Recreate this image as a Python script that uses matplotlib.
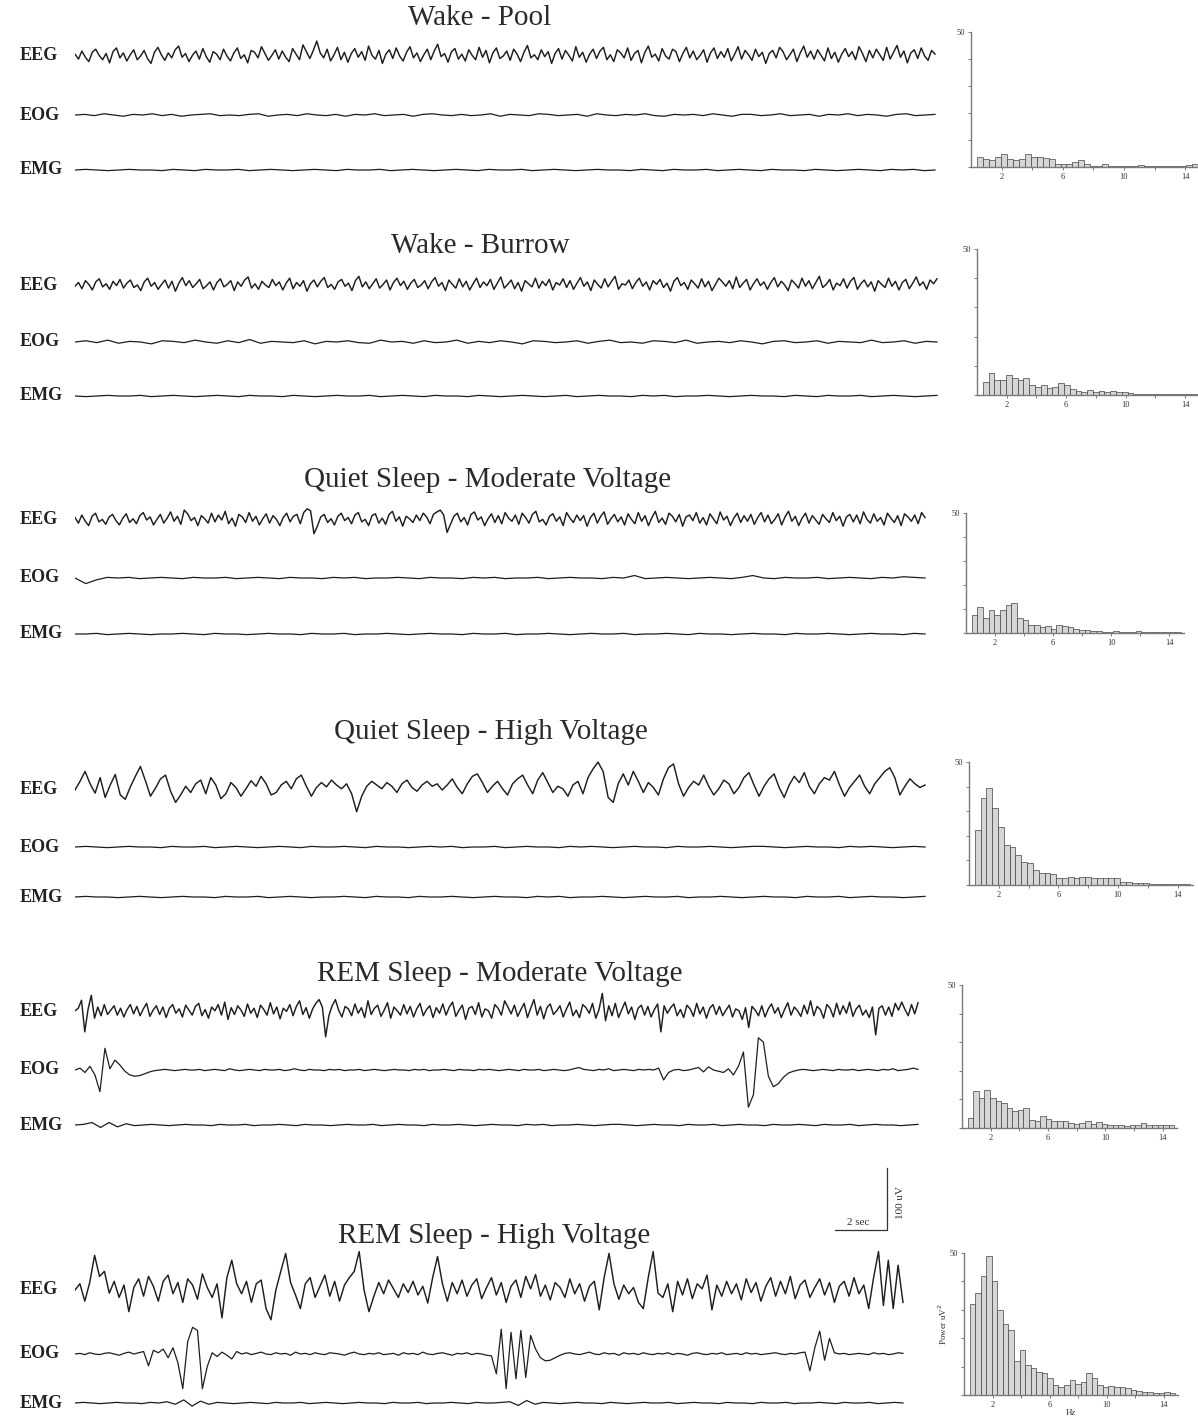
import numpy as np
import matplotlib.pyplot as plt

W, H = 1198, 1428
fig = plt.figure(figsize=(W / 100, H / 100), dpi=100)
plt.rcParams['font.family'] = ['Liberation Serif', 'DejaVu Serif']

# panel titles
titles = ['Wake - Pool', 'Wake - Burrow', 'Quiet Sleep - Moderate Voltage',
          'Quiet Sleep - High Voltage', 'REM Sleep - Moderate Voltage',
          'REM Sleep - High Voltage']
channels = ['EEG', 'EOG', 'EMG']

# trace values in uV
r1_eeg = [3, -5, 8, -2, -9, 6, 11, 1, -6, 4, -11, 7, 13, -3, 5, -8, 2, 10, -6, 0,
          9, -4, -12, 6, 14, 2, -7, 5, -3, 10, 16, -2, 4, -9, 1, 8, -5, 12, -1, -10,
          7, 3, -6, 11, 0, -8, 5, 13, -4, 2, -11, 9, 6, -3, 15, 4, -7, 1, 10, -5,
          8, -2, -9, 12, 3, -6, 18, 7, -4, 9, 24, 5, -3, 11, -8, 2, 14, -6, 6, -10,
          4, 12, -2, 7, -7, 16, 1, -5, 9, -12, 3, 10, -4, 13, 0, -8, 6, 15, -3, 5,
          -9, 2, 11, -6, 8, 19, -1, 4, -10, 7, 12, -5, 3, -8, 10, 1, -6, 14, -2, 9,
          -11, 5, 13, -4, 0, 8, -7, 11, 3, -9, 6, 17, -3, 2, -6, 10, -1, 7, -12, 4,
          12, -5, 9, 1, -8, 15, -2, 6, -10, 3, 11, -4, 8, 14, -6, 2, -9, 10, 5, -3,
          13, -7, 4, 9, -11, 6, 16, -2, 3, -8, 12, 0, -5, 11, 7, -9, 4, 14, -3, 8,
          -6, 1, 10, -10, 5, 13, -4, 7, -2, 12, -8, 3, 15, -5, 9, 2, -7, 11, -1, 6,
          -12, 4, 9, -3, 14, 7, -6, 2, 11, -9, 5, 16, -2, 8, -5, 10, 1, -8, 13, -4,
          6, -10, 3, 12, -1, 7, -6, 15, 4, -9, 9, -3, 11, 2, -7, 14, -5, 6, 17, -2,
          8, -11, 5, 10, -4, 13, 0, -7, 9, 3]
r1_eog = [0, 1, -1, 2, 0, -2, 1, 0, 2, -1, 1, -2, 0, 1, 2, -1, 0, -1, 1, 2,
          -2, 0, 1, -1, 2, 0, -1, 1, -2, 1, 0, 2, -1, 0, 1, -2, 1, 2, 0, -1,
          1, -1, 0, 2, -2, 1, 0, -1, 2, 1, -1, 0, 1, -2, 2, 0, -1, 1, 0, 2,
          -1, -2, 1, 0, 1, -1, 2, 0, -2, 1, 1, -1, 0, 2, -1, 0, 1, -2, 1, 0,
          2, -1, 1, 0, -2, 1, 2, -1, 0, 1]
r1_emg = [0, 1, 0, -1, 0, 1, 0, 0, -1, 1, 0, -1, 1, 0, 0, 1, -1, 0, 1, 0,
          -1, 0, 1, 0, -1, 1, 0, 0, 1, -1, 0, 1, 0, -1, 0, 1, 0, -1, 1, 0,
          0, 1, -1, 0, 1, 0, -1, 0, 1, 0, 0, -1, 1, 0, -1, 1, 0, 0, 1, -1,
          0, 1, 0, -1, 1, 0, 0, -1, 1, 0, -1, 0, 1, 0, -1, 1, 0, 1, -1, 0]

r2_eeg = [-2, 4, -6, 7, 1, -8, 5, 10, -3, 2, -7, 6, -1, 9, -5, 3, 8, -4, 0, -9,
          5, 11, -2, 4, -7, 1, 8, -5, 6, -10, 3, 12, -1, 7, -4, 2, 9, -6, -1, 5,
          -8, 4, 10, -3, 1, 7, -9, 5, -2, 8, 13, -5, 2, -7, 6, 0, -4, 9, -1, 5,
          -8, 3, 11, -6, 4, -2, 7, -10, 2, 8, -3, 6, 12, -4, 1, -7, 5, 9, -2, 3,
          -9, 7, 14, -3, 5, -6, 2, 10, -5, 1, 8, -8, 4, 11, -1, 6, -7, 3, 9, -4,
          0, 7, -6, 5, 12, -2, 4, -9, 8, 1, -5, 10, -3, 6, -8, 2, 11, -4, 5, -1,
          9, -7, 3, 13, -5, 1, 8, -6, 4, -10, 7, 2, -3, 11, -5, 6, -1, 9, -8, 4,
          0, 10, -4, 7, -7, 3, 12, -2, 5, -9, 8, 1, -5, 10, -3, 6, 14, -7, 2, 0,
          8, -6, 4, 11, -2, 5, -8, 7, 1, 9, -4, 3, -10, 6, 12, -1, 4, -7, 8, 2,
          -5, 10, -3, 6, -9, 1, 11, 5, -2, 7, -6, 13, -4, 3, 9, -8, 2, 10, -1, 5,
          -7, 4, 12, -3, 6, 0, -9, 8, 2, -5, 11, -2, 7, -6, 4, 14, -4, 1, 9, -8,
          3, -1, 10, -5, 6, 12, -7, 2, 8, -3, 5, -10, 7, 1, -4, 11, -2, 6, -8, 4,
          9, -6, 3, 13, -1, 5, -7, 8, 2, 10]
r2_eog = [0, 2, -1, 3, -2, 1, 0, -3, 2, 1, -1, 3, 0, -2, 2, -1, 4, -2, 1, 0,
          -1, 2, -3, 1, 0, 2, -1, -2, 3, 0, 1, -2, 2, -1, 0, 3, -2, 1, -1, 2,
          0, -3, 2, 1, -1, 0, 2, -2, 1, 3, -1, 0, -2, 2, 1, -1, 3, -2, 0, 1,
          -1, 2, 0, -3, 1, 2, -1, 0, 2, -2, 1, 0, -1, 3, -1, 0, 2, -2, 1, 0]
r2_emg = [0, -1, 0, 1, 0, 0, 1, -1, 0, 1, 0, -1, 0, 1, 0, -1, 1, 0, 0, -1,
          1, 0, -1, 0, 1, 0, 0, 1, -1, 0, 1, 0, -1, 1, 0, 0, -1, 1, 0, -1,
          0, 1, 0, -1, 0, 1, -1, 0, 1, 0, 0, -1, 1, 0, 1, -1, 0, 0, 1, 0,
          -1, 0, 1, 0, 0, -1, 1, 0, -1, 1, 0, 0, 1, -1, 0, 1, 0, -1, 0, 1]

r3_eeg = [4, -5, 8, -2, -9, 6, 11, -3, 1, -7, 5, 9, -1, -8, 3, 10, -4, 2, -6, 7,
          12, 0, 5, -8, 1, 9, -5, 3, 13, -2, 6, -7, 16, 10, -1, 4, -9, 7, 2, -5,
          11, -3, 8, 0, 14, -6, 3, -10, 9, 5, -4, 12, -2, 6, -8, 2, 10, -5, 7, 1,
          -9, 4, 11, -3, 6, 9, -6, 12, 18, 15, -22, -10, 5, 9, -4, 2, -8, 6, 11, -1,
          4, -6, 8, 12, -3, 1, -9, 7, 10, -5, 3, -7, 9, 14, -2, 5, -10, 6, 2, -4,
          8, -1, 11, 5, -6, 9, 13, 16, 8, -20, -7, 6, 11, -3, 4, -8, 9, 13, 0, 5,
          -9, 2, 10, -4, 7, -6, 12, 3, -2, 8, -7, 11, 4, -5, 9, 14, -3, 1, -8, 6,
          10, -2, 5, -9, 12, 3, -4, 8, -1, 7, -10, 4, 11, -5, 6, 13, -7, 2, 9, -3,
          5, -8, 10, 1, -6, 12, -2, 7, -9, 4, 14, -4, 3, -7, 11, 6, -3, 9, -10, 5,
          8, -1, 12, -5, 4, -8, 10, 2, -6, 13, 0, 6, -9, 3, 11, -4, 7, -2, 9, -7,
          4, 12, -3, 8, -6, 1, 10, -8, 5, 14, -2, 6, -9, 3, 11, -5, 7, 0, -7, 9,
          2, -4, 12, -1, 6, -10, 5, 9, -3, 8, -6, 13, 1, -5, 10, -2, 4, -8, 11, 3,
          -4, 7, -9, 10, 5, -2, 8, -6, 12, 4]
r3_eog = [0, -9, -3, 1, 0, 1, -1, 0, 1, 0, -1, 1, 0, 0, 1, -1, 0, 1, 0, -1,
          1, 0, 0, -1, 1, 0, 1, -1, 0, 0, 1, 0, -1, 1, 0, 0, -1, 1, 0, 1,
          -1, 0, 0, 1, -1, 0, 1, 0, 0, -1, 1, 0, 4, -1, 0, 1, 0, -1, 0, 1,
          0, -1, 1, 4, 0, -1, 1, 0, 0, 1, -1, 0, 1, 0, -1, 1, 0, 2, 1, 0]
r3_emg = [0, 0, 1, -1, 0, 1, 0, -1, 0, 0, 1, 0, -1, 1, 0, 0, -1, 0, 1, 0,
          0, -1, 1, 0, 0, 1, -1, 0, 0, 1, 0, -1, 0, 1, 0, 0, -1, 1, 0, 0,
          1, -1, 0, 0, 1, 0, -1, 0, 1, 0, 0, 1, -1, 0, 0, 1, 0, -1, 1, 0,
          0, -1, 0, 1, 0, 0, -1, 1, 0, 0, 1, 0, -1, 0, 1, 0, 0, -1, 1, 0]

r4_eeg = [0, 14, 30, 10, -5, 20, -12, 8, 25, -8, -15, 5, 22, 38, 15, -10, 3, 18, 24, -2,
          -20, -8, 6, -4, 10, 16, -6, 20, 8, -14, -6, 12, 4, -10, 2, 15, 6, 22, 10, -8,
          -4, 8, 14, 2, 18, 24, 6, -10, 4, 12, 5, 16, 8, 2, 10, -6, -35, -10, 6, 14,
          8, 2, 12, 6, -4, 10, 16, 4, -2, 8, 14, 6, 10, 0, 8, 18, 4, -6, 10, 22,
          26, 12, -4, 6, 14, 2, -8, 10, 18, 24, 8, -6, 16, 28, 12, -4, 6, 2, -10, 8,
          14, -6, 20, 34, 45, 30, -12, -20, 10, 26, 8, 30, 14, -4, 12, 4, -8, 18, 36, 42,
          10, -10, 4, 14, 8, 24, 6, -8, 2, 16, 10, -6, 4, 20, 28, 8, -10, 6, 18, 26,
          4, -12, 8, 22, 12, 28, 6, -6, 10, 20, 16, 30, 8, -10, 4, 14, 24, 6, -6, 10,
          20, 30, 36, 20, -8, 6, 18, 10, 4, 8]
r4_eog = [0, 1, 0, -1, 0, 1, 0, 0, -1, 1, 0, 0, 1, -1, 0, 1, 0, -1, 0, 1,
          0, -1, 1, 0, 0, 1, 0, -1, 1, 0, 0, -1, 0, 1, 0, 1, -1, 0, 0, 1,
          -1, 0, 1, 0, 0, -1, 1, 0, 1, 0, -1, 0, 1, 0, 0, -1, 1, 0, 0, 1,
          0, -1, 0, 1, 1, 0, -1, 0, 1, 0, 0, -1, 1, 0, 1, 0, -1, 0, 1, 0]
r4_emg = [0, 1, 0, 0, -1, 0, 1, 0, -1, 0, 1, 0, 0, -1, 1, 0, 0, 1, -1, 0,
          1, 0, -1, 0, 0, 1, 0, -1, 1, 0, 0, -1, 1, 0, 0, 1, 0, -1, 0, 1,
          0, 0, -1, 1, 0, 1, -1, 0, 0, 1, 0, -1, 0, 1, 0, 0, 1, -1, 0, 0,
          1, 0, -1, 0, 1, 0, 0, -1, 1, 0, 0, 1, -1, 0, 1, 0, 0, -1, 0, 1]

r5_eeg = [2, 6, 19, -32, 4, 27, -10, 8, -6, 12, -4, 3, 10, -5, 6, -8, 4, 12, -3, 9,
          -6, 5, 14, -7, 3, 10, -4, 8, -9, 6, 12, -2, 5, -8, 11, 3, -5, 9, 14, -6,
          4, -10, 8, 2, 12, -5, 16, -12, 7, -4, 10, 3, -7, 13, -2, 6, -9, 11, 4, -5,
          15, -3, 8, -11, 6, 1, 12, -6, 9, 18, -4, 7, -10, 5, 14, 20, 8, -40, -6, 10,
          20, 3, -8, 9, 5, -6, 13, -2, 7, -9, 18, -4, 6, 11, -7, 3, 15, -10, 8, 2,
          -5, 12, -3, 9, -8, 5, 14, -6, 4, 10, -9, 7, -2, 13, -5, 8, 16, -7, 3, 11,
          -12, 6, 9, -4, 15, -8, 5, 2, -10, 12, 6, -5, 18, 8, -3, 11, -7, 4, 14, -9,
          6, 20, -5, 9, -11, 7, 13, -4, 2, 10, -8, 5, 16, -6, 3, -9, 12, 7, -2, 14,
          -10, 4, 30, -14, 10, -6, 14, -9, 4, 16, -3, 8, -12, 6, 11, -5, 9, -8, 4, 13,
          -32, 10, -2, 7, 13, -6, 4, -9, 11, 5, -7, 14, -3, 8, -10, 6, 12, -4, 9, -6,
          3, 11, -8, 5, 2, -12, 7, -25, 9, 3, -6, 10, -8, 5, 13, -2, 7, -9, 4, 15,
          -5, 8, 2, -7, 11, -3, 18, -6, 9, 4, -10, 12, 6, -8, 14, -4, 10, -2, 16, -7,
          5, 11, -5, 3, -9, 8, -37, 6, 10, -5, 8, -7, 14, 3, 16, 4, -6, 12, -3, 15]
r5_eog = [0, 3, -4, 6, -8, -35, 35, 2, 16, 8, -2, -8, -10, -9, -6, -3, -1, 0, 1, 0,
          -1, 0, 1, 0, 0, 1, -1, 0, 1, 0, -1, 2, 0, -1, 0, 1, 0, -1, 1, 0,
          0, 1, -1, 0, 2, 0, -1, 1, 0, 0, -1, 1, 0, 1, -1, 0, 0, 1, -1, 0,
          1, 0, -1, 0, 1, 0, 0, -1, 1, 0, 1, -1, 0, 0, 1, 0, -1, 1, 0, 0,
          -1, 1, 0, 1, 0, -1, 0, 1, 0, -1, 1, 0, 0, 1, -1, 0, 1, 0, -1, 0,
          2, 4, 1, 0, -1, 1, 0, 2, -1, 0, 1, 0, -1, 1, 0, 1, 0, 3, -16, -4,
          0, 1, -1, 0, 2, 4, -3, 5, 0, -2, -4, 2, -8, 6, 29, -60, -40, 52, 45, -10,
          -27, -22, -12, -5, -2, 0, 1, 0, -1, 0, 1, 0, -1, 1, 0, 0, 1, -1, 0, 1,
          0, -1, 1, 0, 2, -1, 0, 1, 3, 1]
r5_emg = [0, 1, 4, -4, 4, -3, 2, -1, 0, 1, 0, -1, 0, 1, 0, 0, -1, 1, 0, 0,
          1, -1, 0, 0, 1, 0, -1, 1, 0, 0, -1, 0, 1, 0, 0, 1, -1, 0, 1, 0,
          0, -1, 1, 0, 0, 1, 0, -1, 0, 1, 0, 0, -1, 1, 0, 1, -1, 0, 0, 1,
          0, -1, 0, 1, 1, 0, -1, 0, 1, 0, 0, -1, 1, 0, 0, 1, -1, 0, 1, 0,
          0, -1, 1, 0, 0, 1, 0, -1, 1, 0, 0, 1, -1, 0, 1, 0, 0, -1, 0, 1]

r6_eeg = [0, 10, -18, 12, 56, 22, 30, -5, 14, -12, 8, -35, 4, 18, -10, 22, 6, -18, 14, 24,
          -6, 12, -20, 18, 8, -15, 26, 4, -12, 10, -45, 20, 48, 10, -6, 14, -20, 10, 16, -30,
          -48, 0, 30, 59, 12, -8, -30, 10, 20, -12, 6, 24, -10, 14, -18, 8, 20, 30, 62, 0,
          -35, -10, 12, -6, 16, 2, -12, 10, -4, 14, -8, 6, -21, 20, 54, 10, -18, 12, -6, 16,
          -10, 8, 18, -14, 4, 20, -8, 12, -20, 6, 16, -12, 22, 2, 25, -10, 8, -16, 12, 4,
          -12, 18, -6, 10, -18, 6, 14, -32, 20, 59, 10, -15, 8, -6, 4, -20, -30, 20, 62, -5,
          -12, 10, -35, 14, -8, 18, -14, 10, 2, 24, -32, 8, -10, 14, -6, 10, -16, 18, -4, 12,
          -18, 6, 20, -10, 14, -6, 22, -14, 8, 16, -12, 4, 18, -8, 12, -20, 6, 14, -10, 20,
          -6, 8, -30, 20, 62, -25, 48, -30, 40, -20]
r6_eog = [0, 1, -1, 2, 0, -1, 1, 2, 0, -2, 1, 3, 0, 2, 4, -19, 6, 2, 8, -6,
          10, -14, -56, 20, 43, 38, -56, -20, 2, -4, 3, -2, -8, 4, 0, 2, -1, 1, 3, 0,
          -1, 2, 0, 1, -2, 3, 0, 1, -1, 2, 0, -1, 2, 1, 0, -2, 1, 3, 0, -1,
          1, 0, 2, -1, 0, 1, -2, 2, 0, 1, -1, 3, 0, -1, 1, 2, 0, -2, 1, 0,
          2, -1, 1, 0, -2, -3, -32, 40, -56, 35, -40, 38, -38, 30, 8, -6, -11, -10, -6, -2,
          1, 2, 0, -1, 1, 3, 0, -1, 2, 0, 1, -2, 2, 0, 1, -1, 2, 0, -1, 1,
          0, 2, -1, 1, 0, -2, 1, 2, 0, -1, 1, 0, 2, -1, 0, 1, -1, 2, 0, 1,
          -1, 0, 1, 2, 0, -1, 1, 0, 2, 3, -27, 10, 37, -10, 25, 2, 0, 1, -1, 0,
          1, 0, -1, 2, 0, 1, -1, 0, 2, 1]
r6_emg = [0, 1, 0, -1, 0, 1, 0, 0, -1, 1, 0, 2, -2, 5, -5, 3, -2, 1, 0, -1,
          0, 1, 0, -1, 1, 0, 0, 1, -1, 0, 1, 0, -1, 0, 1, 0, 0, -1, 1, 0,
          0, 1, -1, 0, 0, 1, 0, -1, 1, 0, 0, 1, 2, -4, 4, -2, 1, 0, -1, 0,
          1, 0, 0, -1, 1, 0, -1, 0, 1, 0, 0, 1, -1, 0, 1, 0, 0, -1, 1, 0,
          0, -1, 1, 0, 0, 1, -1, 0, 0, 1, 0, -1, 1, 0, 0, 1, -1, 0, 1, 0]

traces = [(r1_eeg, r1_eog, r1_emg), (r2_eeg, r2_eog, r2_emg), (r3_eeg, r3_eog, r3_emg),
          (r4_eeg, r4_eog, r4_emg), (r5_eeg, r5_eog, r5_emg), (r6_eeg, r6_eog, r6_emg)]

# power spectra, 0.39 Hz bins, uV^2
spec1 = [3.7, 3.1, 2.5, 3.7, 4.7, 3.1, 2.7, 3.1, 4.9, 3.7, 3.7, 3.5, 3.1, 1.0, 1.2, 1.0, 1.9, 2.7, 1.2,
         0.5, 0.2, 1.0, 0.3, 0.3, 0.4, 0.3, 0.3, 0.9, 0.2, 0.3, 0.3, 0.3, 0.3, 0.4, 0.3, 0.6, 1.0]
spec2 = [4.6, 7.4, 5.1, 5.1, 6.8, 5.7, 5.1, 5.9, 3.4, 2.9, 3.4, 2.5, 2.9, 4.0, 3.4, 2.1, 1.4, 1.1, 1.6,
         1.1, 1.4, 1.1, 1.4, 1.1, 1.1, 0.7, 0.5, 0.4, 0.5, 0.4, 0.3, 0.4, 0.3, 0.4, 0.3, 0.3, 0.3]
spec3 = [7.6, 11.0, 6.2, 9.7, 7.6, 9.7, 11.8, 12.5, 6.2, 5.5, 3.5, 3.2, 2.4, 2.8, 1.8, 3.5, 2.8, 2.4, 1.8,
         1.4, 1.4, 1.0, 0.8, 0.6, 0.6, 0.8, 0.5, 0.6, 0.5, 0.8, 0.5, 0.5, 0.6, 0.5, 0.6, 0.6, 0.5]
spec4 = [22.4, 35.2, 39.3, 31.2, 23.7, 16.3, 15.6, 12.2, 9.5, 8.8, 6.1, 4.7, 4.7, 4.5, 2.7, 2.7, 3.4,
         3.0, 3.1, 3.4, 3.0, 3.0, 2.8, 3.0, 2.7, 1.4, 1.1, 0.9, 0.9, 0.7, 0.4, 0.4, 0.3, 0.4, 0.3, 0.5, 0.3]
spec5 = [3.5, 12.8, 10.5, 13.4, 10.5, 9.3, 8.7, 7.0, 5.8, 6.4, 7.0, 2.9, 2.3, 4.1, 3.3, 2.3, 2.6, 2.3,
         1.7, 1.4, 1.6, 2.3, 1.4, 2.1, 1.4, 1.2, 0.9, 0.9, 0.6, 0.9, 1.2, 1.7, 1.2, 0.9, 0.9, 0.9, 0.9]
spec6 = [32, 36, 42, 49, 40, 30, 25, 23, 12, 16, 10.5, 9.4, 8.2, 7.6, 5.9, 3.5, 2.9, 3.5, 5.3, 4.0,
         4.7, 7.6, 5.9, 3.5, 2.9, 3.2, 2.9, 2.9, 2.3, 1.8, 1.5, 1.2, 1.2, 0.8, 0.8, 1.0, 0.8]
spectra = [spec1, spec2, spec3, spec4, spec5, spec6]
bin_hz = 0.39

# layout in pixels
title_xy = [(480, 18), (480, 246), (488, 480), (491, 732), (500, 974), (494, 1236)]
chan_y = [(56, 115, 170), (285, 342, 396), (520, 578, 634),
          (790, 847, 897), (1012, 1070, 1125), (1290, 1354, 1403)]
trace_end = [935, 937, 925, 925, 918, 903]
spec_box = [(971, 15.3, 167, 32), (977, 14.86, 395, 249), (966, 14.5, 633, 513),
            (969, 14.9, 885, 762), (962, 14.33, 1128, 985), (964, 14.25, 1395, 1253)]
x0 = 75
sec_px = 26.0
uv_px = 0.62
ink = '#1e1e1e'


def px_axes(left, top, right, bottom):
    return fig.add_axes([left / W, 1 - bottom / H, (right - left) / W, (bottom - top) / H])


for k in range(6):
    eeg_y = chan_y[k][0]
    top = max(eeg_y - 130, 0)
    bottom = chan_y[k][2] + 20
    ax = px_axes(x0, top, x0 + 870, bottom)
    ax.set_xlim(0, 870 / sec_px)
    ax.set_ylim(-(bottom - eeg_y) / uv_px, (eeg_y - top) / uv_px)
    ax.axis('off')
    dur = (trace_end[k] - x0) / sec_px
    for vals, yc, lw in zip(traces[k], chan_y[k], [1.05, 0.9, 0.9]):
        off = -(yc - eeg_y) / uv_px
        t = np.linspace(0, dur, len(vals))
        ax.plot(t, np.array(vals) + off, color=ink, lw=lw)
    for name, yc in zip(channels, chan_y[k]):
        fig.text(20 / W, 1 - yc / H, name, ha='left', va='center', fontsize=13,
                 fontweight='bold', color='#222222')
    fig.text(title_xy[k][0] / W, 1 - title_xy[k][1] / H, titles[k], ha='center', va='center',
             fontsize=21, color='#2a2a2a')

    if k == 5:
        # scale bar: 2 sec / 100 uV
        sx = (835 - x0) / sec_px
        sy = (eeg_y - 1230) / uv_px
        ax.plot([sx, sx + 2, sx + 2], [sy, sy, sy + 100], color='#333333', lw=0.9)
        ax.text(sx + 0.9, sy + 5, '2 sec', ha='center', va='bottom', fontsize=8, color='#333333')
        ax.text(sx + 2.35, sy + 45, '100 uV', ha='left', va='center', rotation=90,
                fontsize=8, color='#333333')

    # spectrum
    sx0, spx, sbase, stop = spec_box[k]
    sax = px_axes(sx0, stop, sx0 + 15 * spx, sbase)
    freqs = bin_hz * np.arange(1, len(spectra[k]) + 1)
    sax.bar(freqs, spectra[k], width=bin_hz, align='edge', color='#d6d6d6',
            edgecolor='#444444', linewidth=0.5)
    sax.set_xlim(0, 15)
    sax.set_ylim(0, 50)
    sax.patch.set_alpha(0)
    for s in ['top', 'right']:
        sax.spines[s].set_visible(False)
    for s in ['left', 'bottom']:
        sax.spines[s].set_color('#7a7a7a')
        sax.spines[s].set_linewidth(1.0)
    sax.set_xticks([2, 6, 10, 14])
    sax.set_xticks([4, 8, 12], minor=True)
    sax.set_yticks([0, 10, 20, 30, 40, 50])
    sax.set_yticklabels(['', '', '', '', '', '50'])
    sax.tick_params(axis='both', which='both', length=2.5, width=0.7, color='#7a7a7a',
                    labelsize=6, labelcolor='#333333', pad=1.5)
    if k == 5:
        sax.set_ylabel('Power uV$^2$', fontsize=6.5, color='#333333', labelpad=1)
        sax.set_xlabel('Hz', fontsize=6.5, color='#333333', labelpad=0)

fig.savefig('out.png', dpi=100, facecolor='white')
